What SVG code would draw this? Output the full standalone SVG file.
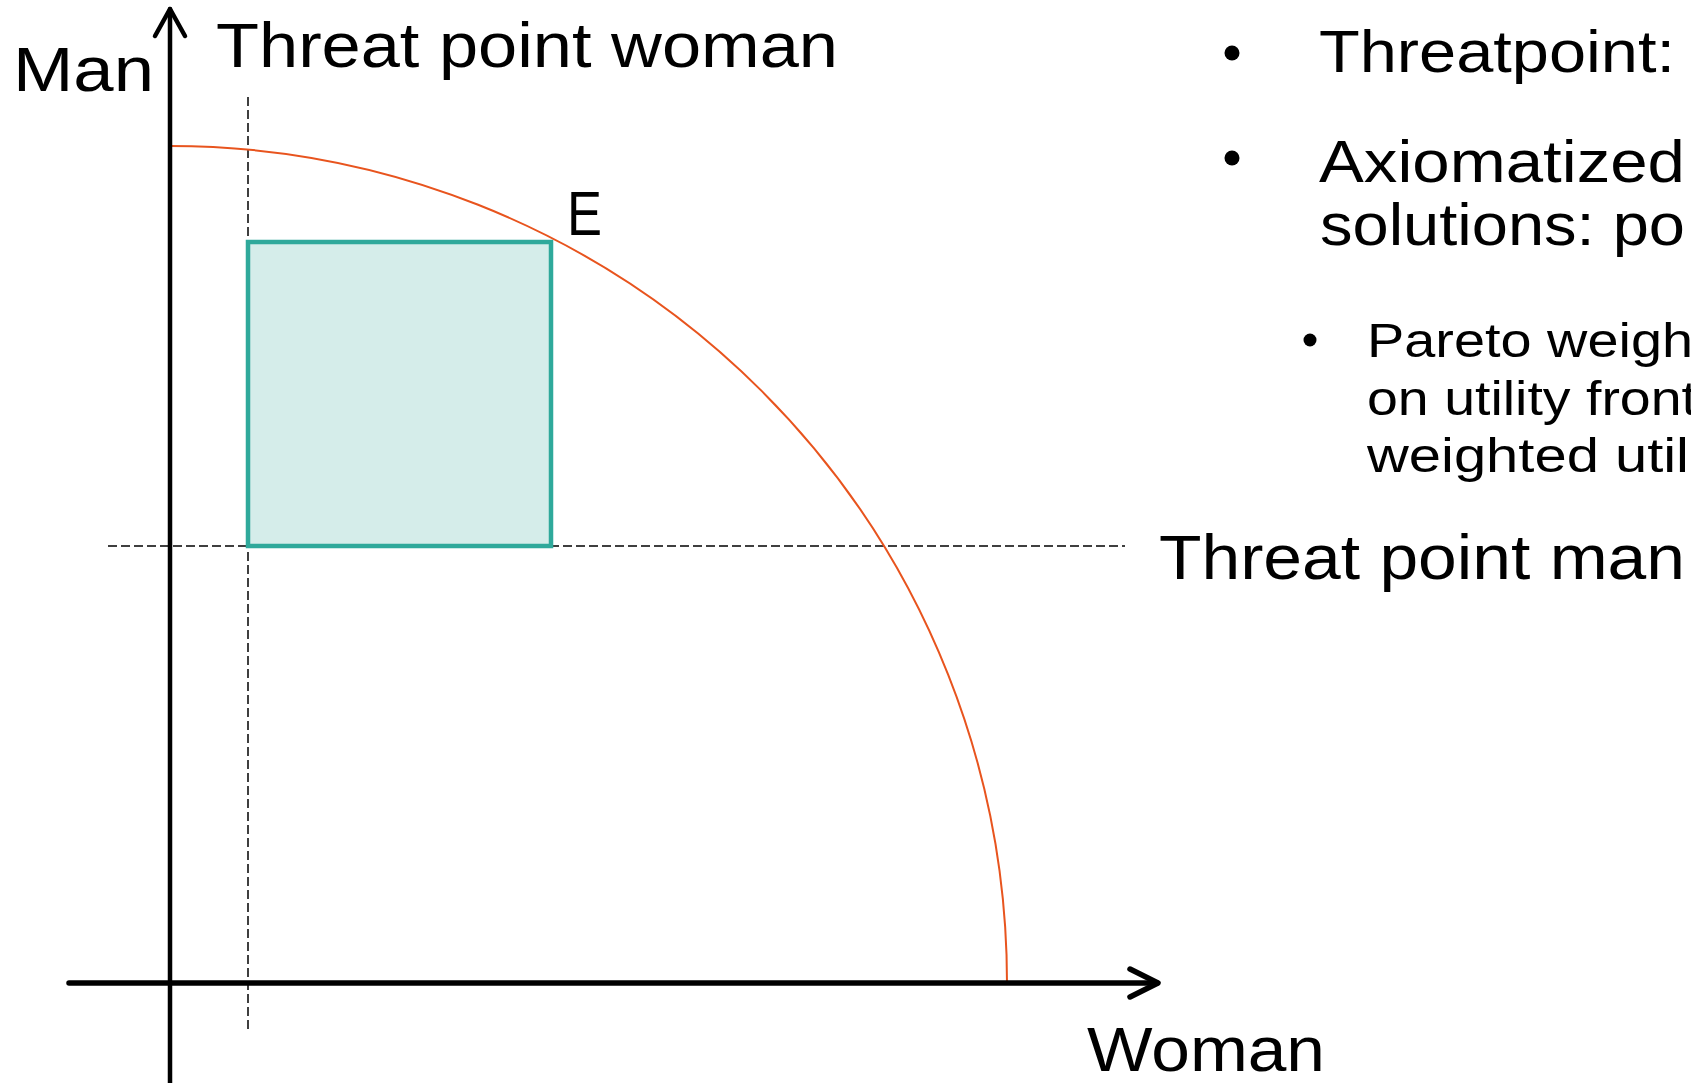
<svg xmlns="http://www.w3.org/2000/svg" width="1691" height="1083" viewBox="0 0 1691 1083">
<style>
  .t { font-family: "Liberation Sans", Arial, sans-serif; fill: #000; }
  .big { font-size: 63px; }
  .mid { font-size: 59px; }
  .small { font-size: 48px; }
  .axis { stroke: #000; fill: none; stroke-linecap: round; stroke-linejoin: round; }
  .dash { stroke: #000; stroke-width: 1.5; stroke-dasharray: 9 4; fill: none; }
</style>
<rect width="1691" height="1083" fill="#ffffff"/>

<g id="threat-lines">
  <line class="dash" x1="248" y1="97" x2="248" y2="1030"/>
  <line class="dash" x1="108" y1="546" x2="1125" y2="546"/>
</g>

<g id="bargaining-set">
  <rect x="248" y="242" width="303" height="304" fill="#D5EDEA" stroke="#2FA99B" stroke-width="4.5"/>
</g>

<g id="frontier">
  <path d="M170,146 A837,837 0 0 1 1007,983" fill="none" stroke="#E8541E" stroke-width="2"/>
</g>

<g id="connectors">
  <line class="axis" x1="170" y1="1083" x2="170" y2="9" stroke-width="4.5"/>
  <polyline class="axis" points="155,36 170,9 185,36" stroke-width="4.5"/>
  <line class="axis" x1="69" y1="983" x2="1157" y2="983" stroke-width="5.5" stroke-linecap="butt"/>
  <polyline class="axis" points="1130,969 1158,983 1130,997" stroke-width="5.5"/>
</g>

<g id="axis-labels">
  <text class="t big" x="13" y="91" textLength="141" lengthAdjust="spacingAndGlyphs">Man</text>
  <text class="t big" x="1087" y="1071" textLength="238" lengthAdjust="spacingAndGlyphs">Woman</text>
</g>

<g id="threat-labels">
  <text class="t big" x="216" y="67" textLength="622" lengthAdjust="spacingAndGlyphs">Threat point woman</text>
  <text class="t big" x="1159" y="579" textLength="526" lengthAdjust="spacingAndGlyphs">Threat point man</text>
</g>

<g id="point-E">
  <text class="t big" x="567" y="235" textLength="35" lengthAdjust="spacingAndGlyphs">E</text>
</g>

<g id="bullets">
  <circle cx="1232" cy="53" r="7.5" fill="#000"/>
  <text class="t mid" x="1319" y="72" textLength="356" lengthAdjust="spacingAndGlyphs">Threatpoint:</text>
  <circle cx="1232" cy="158" r="7.5" fill="#000"/>
  <text class="t mid" x="1319" y="182" textLength="366" lengthAdjust="spacingAndGlyphs">Axiomatized</text>
  <text class="t mid" x="1320" y="245" textLength="365" lengthAdjust="spacingAndGlyphs">solutions: po</text>
  <circle cx="1310" cy="340" r="6.5" fill="#000"/>
  <text class="t small" x="1367" y="357" textLength="326" lengthAdjust="spacingAndGlyphs">Pareto weigh</text>
  <text class="t small" x="1367" y="415" textLength="330" lengthAdjust="spacingAndGlyphs">on utility front</text>
  <text class="t small" x="1367" y="472" textLength="322" lengthAdjust="spacingAndGlyphs">weighted util</text>
</g>
</svg>
